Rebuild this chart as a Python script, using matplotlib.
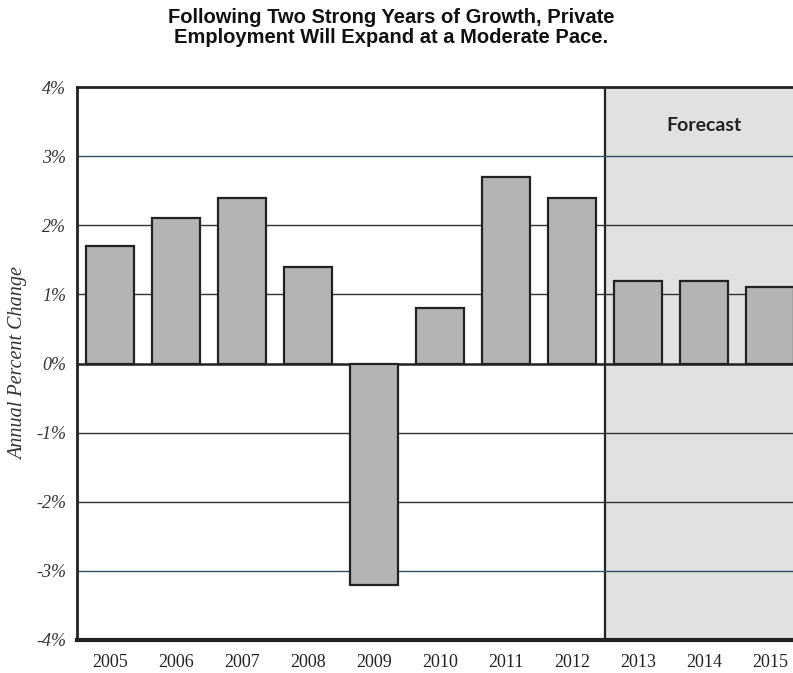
import matplotlib
matplotlib.use("Agg")
import matplotlib.pyplot as plt
import numpy as np

years = ['2005', '2006', '2007', '2008', '2009', '2010', '2011', '2012', '2013', '2014', '2015']
pct_change = [1.7, 2.1, 2.4, 1.4, -3.2, 0.8, 2.7, 2.4, 1.2, 1.2, 1.1]
first_forecast = 8  # index of 2013
yticks = [-4, -3, -2, -1, 0, 1, 2, 3, 4]
ytick_labels = ['-4%', '-3%', '-2%', '-1%', '0%', '1%', '2%', '3%', '4%']

fig = plt.figure(figsize=(7.93, 6.73), dpi=100)
ax = fig.add_axes([77/793, 33/673, 716/793, 553/673])

x = np.arange(len(years))

# forecast shading
ax.axvspan(first_forecast - 0.5, 20, color='#e0e1e3', zorder=0)
ax.axvline(first_forecast - 0.5, color='#222222', lw=1.6, zorder=1)

# gridlines
for yv in [1, 2, -1, -2]:
    ax.axhline(yv, color='#333333', lw=1.0, zorder=1)
for yv in [3, -3]:
    ax.axhline(yv, color='#2e4f5f', lw=1.0, zorder=1)
ax.axhline(0, color='#222222', lw=1.8, zorder=1)

ax.bar(x, pct_change, width=0.73, color='#b3b4b6', edgecolor='#222222', linewidth=1.6, zorder=2)

ax.set_xlim(-0.5, 10.35)
ax.set_ylim(-4, 4)
ax.set_yticks(yticks)
ax.set_yticklabels(ytick_labels, family='Liberation Serif', style='italic', fontsize=13, color='#333333')
ax.set_xticks(x)
ax.set_xticklabels(years, family='Liberation Serif', fontsize=13, color='#222222')
ax.tick_params(length=0, pad=8)
ax.tick_params(axis='x', pad=10)

ax.spines['right'].set_visible(False)
ax.spines['left'].set_linewidth(2)
ax.spines['top'].set_linewidth(2)
ax.spines['bottom'].set_linewidth(3)
for s in ['left', 'top', 'bottom']:
    ax.spines[s].set_color('#222222')

ax.set_ylabel('Annual Percent Change', family='Liberation Serif', style='italic',
              fontsize=14.5, color='#333333')
ax.yaxis.set_label_coords(-0.068, 0.5)

ax.text(9, 3.45, 'Forecast', ha='center', va='center', family='Lato',
        fontweight='bold', fontsize=14, color='#222222')

fig.suptitle('Following Two Strong Years of Growth, Private\nEmployment Will Expand at a Moderate Pace.',
             x=0.493, y=0.988, family='Liberation Sans', fontweight='bold', fontsize=14.5,
             color='#111111', linespacing=1.05)

fig.savefig('out.png', dpi=100)
